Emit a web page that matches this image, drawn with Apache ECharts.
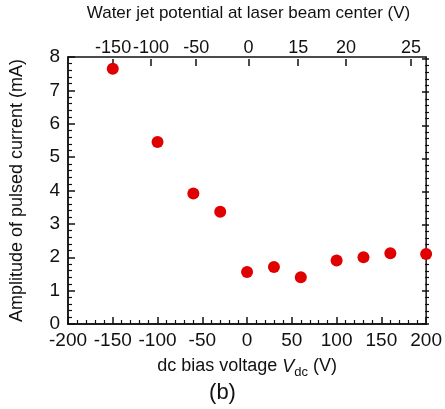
<!DOCTYPE html>
<html>
<head>
<meta charset="utf-8">
<script src="https://cdn.jsdelivr.net/npm/echarts@6/dist/echarts.min.js"></script>
<style>
  html, body { margin: 0; padding: 0; background: #fff; }
  #chart { width: 445px; height: 409px; }
</style>
</head>
<body>
<div id="chart"></div>
<script>
// measured points: dc bias voltage (V) vs amplitude of pulsed current (mA)
const biasVoltage = [-150, -100, -60, -30, 0, 30, 60, 100, 130, 160, 200];
const pulsedCurrent = [7.65, 5.45, 3.91, 3.36, 1.56, 1.71, 1.40, 1.90, 2.00, 2.12, 2.10];

// top axis: water jet potential, placed at these bias voltages
const topTickPos = [-150, -108, -58, 0, 55, 108, 180];
const topTickLabels = ['-150', '-100', '-50', '0', '15', '20', '25'];

const font = 'Liberation Sans, Arial, sans-serif';
const black = '#111';

let myChart = echarts.init(document.getElementById('chart'));

let points = biasVoltage.map((v, i) => [v, pulsedCurrent[i]]);

// both grids cover the same rectangle; the second one carries the top and right axes
const gridBox = { left: 68, right: 16, top: 57, bottom: 85 };

let option = {
    animation: false,
    grid: [
        Object.assign({ show: true, borderColor: black, borderWidth: 1.5 }, gridBox),
        Object.assign({}, gridBox)
    ],
    xAxis: [
        {
            type: 'value',
            gridIndex: 0,
            position: 'bottom',
            min: -200, max: 200, interval: 50,
            name: 'dc bias voltage {i|V}{s|dc} (V)',
            nameLocation: 'middle',
            nameGap: 30,
            nameTextStyle: {
                fontFamily: font, fontSize: 18, color: black,
                rich: {
                    i: { fontFamily: font, fontSize: 18, fontStyle: 'italic', color: black },
                    s: { fontFamily: font, fontSize: 13, color: black, padding: [12, 0, 0, 0] }
                }
            },
            axisLine: { show: true, onZero: false, lineStyle: { color: black, width: 1.5 } },
            axisTick: { show: true, inside: true, length: 7, lineStyle: { color: black, width: 1.5 } },
            minorTick: { show: true, splitNumber: 5, length: 4, lineStyle: { color: black, width: 1.2 } },
            axisLabel: { fontFamily: font, fontSize: 19, color: black, margin: 7, hideOverlap: false },
            splitLine: { show: false }
        },
        {
            type: 'value',
            gridIndex: 1,
            position: 'top',
            min: -200, max: 200,
            name: 'Water jet potential at laser beam center (V)',
            nameLocation: 'middle',
            nameGap: 37,
            nameTextStyle: { fontFamily: font, fontSize: 17, color: black },
            axisLine: { show: false, onZero: false },
            axisTick: { show: true, inside: true, length: 7, customValues: topTickPos, lineStyle: { color: black, width: 1.5 } },
            axisLabel: {
                show: true,
                fontFamily: font, fontSize: 18, color: black, margin: 2,
                hideOverlap: false,
                showMinLabel: true,
                showMaxLabel: true,
                customValues: topTickPos,
                formatter: function (val) {
                    let idx = topTickPos.indexOf(val);
                    return idx >= 0 ? topTickLabels[idx] : '';
                }
            },
            splitLine: { show: false }
        }
    ],
    yAxis: [
        {
            type: 'value',
            gridIndex: 0,
            position: 'left',
            min: 0, max: 8, interval: 1,
            name: 'Amplitude of pulsed current (mA)',
            nameLocation: 'middle',
            nameGap: 42,
            nameTextStyle: { fontFamily: font, fontSize: 18, color: black },
            axisLine: { show: true, onZero: false, lineStyle: { color: black, width: 1.5 } },
            axisTick: { show: true, inside: true, length: 7, lineStyle: { color: black, width: 1.5 } },
            minorTick: { show: true, splitNumber: 5, length: 4, lineStyle: { color: black, width: 1.2 } },
            axisLabel: { fontFamily: font, fontSize: 19, color: black, margin: 8 },
            splitLine: { show: false }
        },
        {
            type: 'value',
            gridIndex: 1,
            position: 'right',
            min: 0, max: 8, interval: 1,
            axisLine: { show: false, onZero: false },
            axisTick: { show: true, inside: true, length: 7, lineStyle: { color: black, width: 1.5 } },
            minorTick: { show: true, splitNumber: 5, length: 4, lineStyle: { color: black, width: 1.2 } },
            axisLabel: { show: false },
            splitLine: { show: false }
        }
    ],
    series: [
        {
            type: 'scatter',
            xAxisIndex: 0,
            yAxisIndex: 0,
            data: points,
            symbol: 'circle',
            symbolSize: 12,
            itemStyle: { color: '#e00000', opacity: 1 },
            clip: false,
            z: 5
        },
        {
            // empty series so the second grid's axes are drawn
            type: 'scatter',
            xAxisIndex: 1,
            yAxisIndex: 1,
            data: [],
            silent: true
        }
    ],
    graphic: [
        {
            type: 'text',
            left: 'center',
            top: 382,
            style: { text: '(b)', fontFamily: font, fontSize: 22, fill: black }
        }
    ]
};

myChart.setOption(option);

window.addEventListener('resize', function () {
    myChart.resize();
});
</script>
</body>
</html>
